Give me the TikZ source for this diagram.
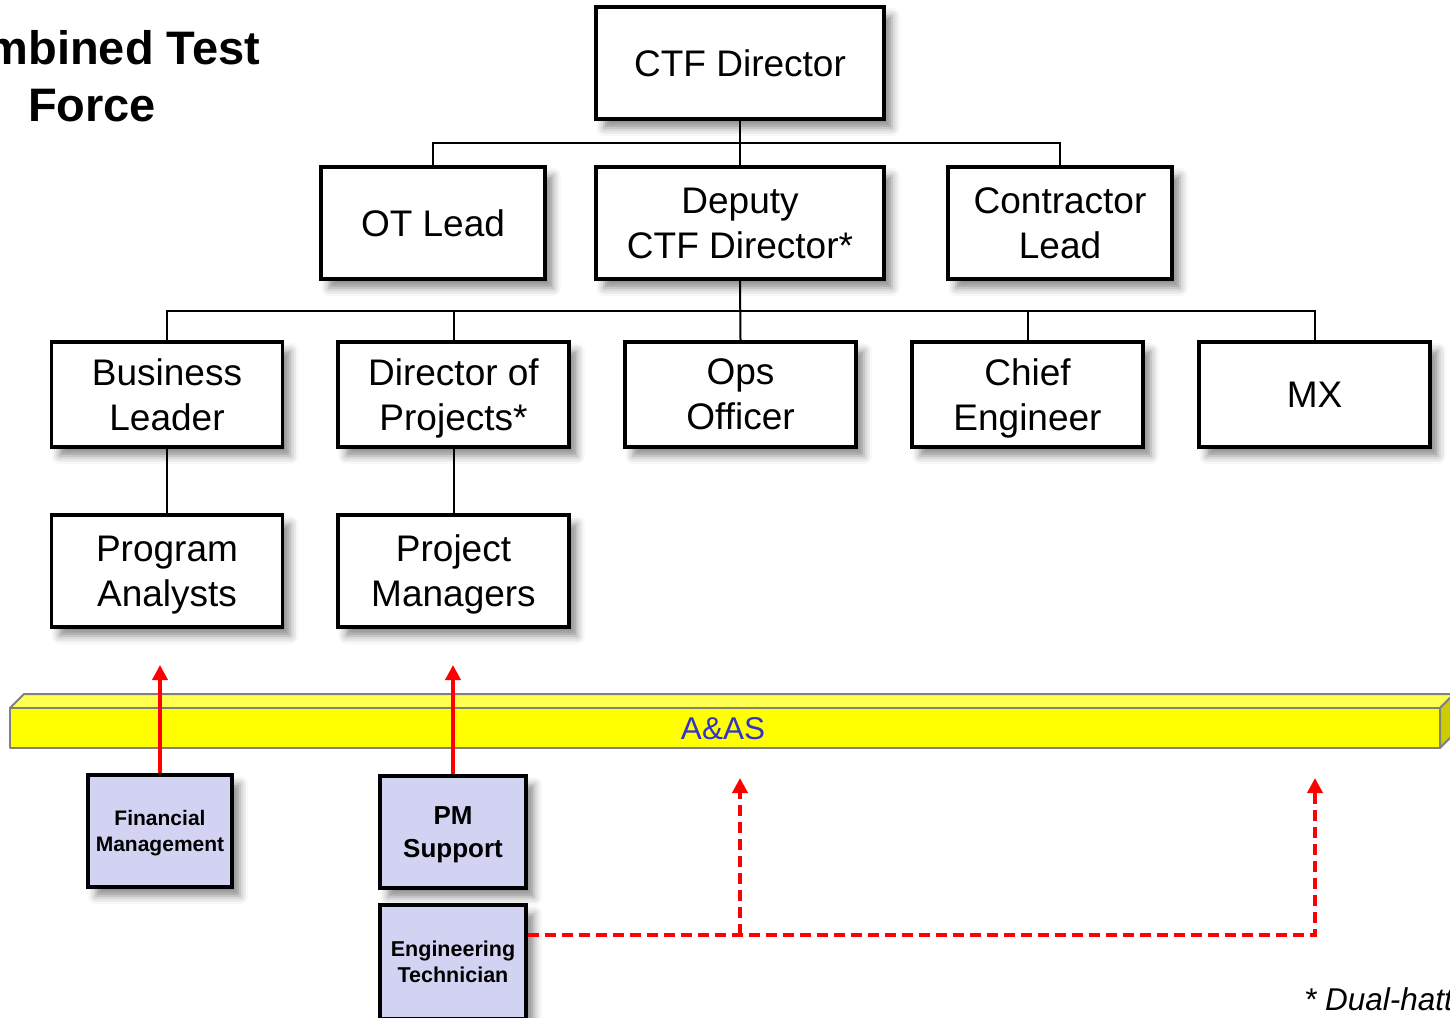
\documentclass[tikz,border=0pt]{standalone}
\usepackage{fontspec}
\setmainfont{Liberation Sans}
\usetikzlibrary{arrows.meta,shadows.blur,calc}
\definecolor{lav}{RGB}{210,210,242}
\definecolor{aasblue}{RGB}{51,51,204}
\definecolor{barY}{RGB}{255,255,0}
\definecolor{barTop}{RGB}{255,255,80}
\definecolor{barSide}{RGB}{204,204,0}
\definecolor{barEdge}{RGB}{128,128,128}
\begin{document}
\begin{tikzpicture}[x=1pt,y=-1pt,
  shad/.style={blur shadow={shadow xshift=8pt, shadow yshift=-9pt, shadow blur radius=8pt, shadow opacity=45}},
  orgbox/.style={draw=black, line width=3.5pt, fill=white, inner sep=0pt, align=center,
    font=\fontsize{37}{45}\selectfont, text depth=0pt, shad},
  subbox/.style={draw=black, line width=4pt, fill=lav, inner sep=0pt, align=center,
    minimum width=144pt, minimum height=112pt, text depth=0pt, shad},
  conn/.style={draw=black, line width=2pt},
  redarrow/.style={draw=red, line width=3.6pt, -{Triangle[length=15pt,width=15pt]}},
  reddash/.style={draw=red, line width=3.6pt, dash pattern=on 11pt off 6pt},
]
\useasboundingbox (0,0) rectangle (1450,1017);

% title
\node (title) [align=center, inner sep=0pt, font=\fontsize{47}{57}\selectfont\bfseries] at (92,76) {Combined Test\\Force};

% org boxes
\node (ctf) [orgbox, minimum width=288pt, minimum height=112pt] at (740,63) {CTF Director};
\node (ot) [orgbox, minimum width=224pt, minimum height=112pt] at (433,223) {OT Lead};
\node (dep) [orgbox, minimum width=288pt, minimum height=112pt] at (740,223) {Deputy\\CTF Director*};
\node (con) [orgbox, minimum width=224pt, minimum height=112pt] at (1060,223) {Contractor\\Lead};

\node (bus) [orgbox, minimum width=231pt, minimum height=105pt] at (167,394.5) {Business\\Leader};
\node (dop) [orgbox, minimum width=231pt, minimum height=105pt] at (453.5,394.5) {Director of\\Projects*};
\node (ops) [orgbox, minimum width=231pt, minimum height=105pt] at (740.5,394.5) {Ops\\Officer};
\node (chief) [orgbox, minimum width=231pt, minimum height=105pt] at (1027.5,394.5) {Chief\\Engineer};
\node (mx) [orgbox, minimum width=231pt, minimum height=105pt] at (1314.5,394.5) {MX};

\node (pa) [orgbox, minimum width=231pt, minimum height=112pt] at (167,571) {Program\\Analysts};
\node (pm) [orgbox, minimum width=231pt, minimum height=112pt] at (453.5,571) {Project\\Managers};

% connectors
\coordinate (h1) at (740,143);
\coordinate (h2) at (740,311);
\draw[conn] (ctf.south) -- (dep.north);
\draw[conn] (ot.north) |- (h1) -| (con.north);
\draw[conn] (dep.south) -- (ops.north);
\draw[conn] (bus.north) |- (h2) -| (mx.north);
\draw[conn] (dop.north) -- (dop.north |- h2);
\draw[conn] (chief.north) -- (chief.north |- h2);
\draw[conn] (bus.south) -- (pa.north);
\draw[conn] (dop.south) -- (pm.north);

% A&AS bar
\filldraw[fill=barTop, draw=barEdge, line width=2pt, line join=round] (10,708) -- (24,694) -- (1454,694) -- (1440,708) -- cycle;
\filldraw[fill=barSide, draw=barEdge, line width=2pt, line join=round] (1440,708) -- (1454,694) -- (1454,734) -- (1440,748) -- cycle;
\filldraw[fill=barY, draw=barEdge, line width=2pt, line join=round] (10,708) rectangle (1440,748);
\node (aas) [text=aasblue, font=\fontsize{31.5}{36}\selectfont, inner sep=0pt] at (723,729) {A\&AS};

% support boxes
\node (fin) [subbox, font=\fontsize{21}{26}\selectfont\bfseries] at (160,831) {Financial\\Management};
\node (pms) [subbox, minimum width=146pt, font=\fontsize{26}{33}\selectfont\bfseries] at (453,832) {PM\\Support};
\node (et) [subbox, minimum width=146pt, minimum height=114pt, font=\fontsize{21.5}{26}\selectfont\bfseries] at (453,962) {Engineering\\Technician};

% red arrows
\coordinate (a1) at (fin.north |- 0,665);
\coordinate (a2) at (pms.north |- 0,665);
\draw[redarrow] (fin.north) -- (a1);
\draw[redarrow] (pms.north) -- (a2);

\coordinate (j1) at (740,935);
\coordinate (j2) at (1315,935);
\coordinate (t1) at (740,778);
\coordinate (t2) at (1315,778);
\draw[reddash] (et.east |- j1) -- (j2) -- ($(t2)+(0,12)$);
\draw[reddash] (j1) -- ($(t1)+(0,12)$);
\draw[redarrow] ($(t1)+(0,14)$) -- (t1);
\draw[redarrow] ($(t2)+(0,14)$) -- (t2);

% footnote
\node (note) [anchor=base west, inner sep=0pt, font=\fontsize{31.5}{36}\selectfont\itshape] at (1304,1010) {* Dual-hatted};
\end{tikzpicture}
\end{document}
